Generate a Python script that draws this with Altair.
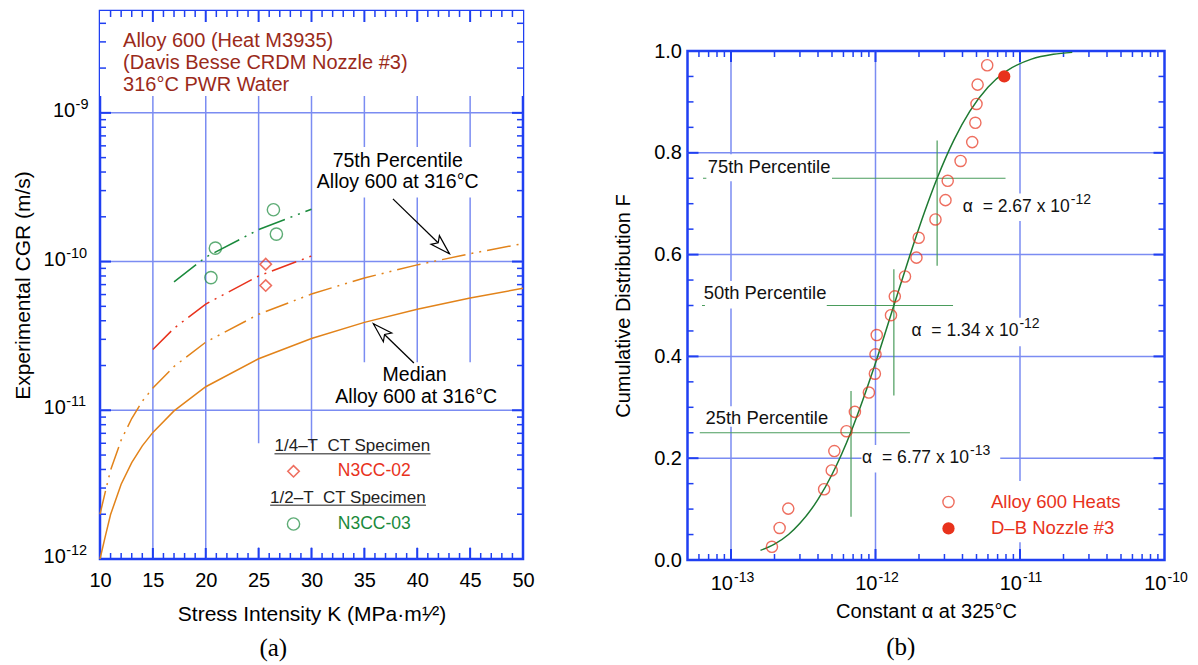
import altair as alt
import pandas as pd

BLUE = "#1f3ff2"
GRID = "#7b8cf2"
ORANGE = "#e2831a"
RED = "#e8321c"
DARKRED = "#9a2a1a"
GREEN = "#1a8a3c"
FIT_GREEN = "#1e7a32"
PCT_GREEN = "#4a9c5c"
FONT = "Liberation Sans"
NB = "\u00a0"

# ---------------- panel (a) data ----------------
k_curve = [10, 10.5, 11, 12, 13, 14, 15, 17, 20, 25, 30, 35, 40, 45, 50]
median_cgr = [1.0e-12, 1.42e-12, 1.99e-12, 3.18e-12, 4.44e-12, 5.76e-12, 7.1e-12, 9.9e-12,
              1.44e-11, 2.22e-11, 3.04e-11, 3.9e-11, 4.78e-11, 5.69e-11, 6.61e-11]
p75_cgr = [2.0e-12, 2.83e-12, 3.96e-12, 6.3e-12, 8.8e-12, 1.15e-11, 1.41e-11, 1.97e-11,
           2.87e-11, 4.42e-11, 6.05e-11, 7.76e-11, 9.5e-11, 1.13e-10, 1.32e-10]
red_k = [15, 17, 20, 25, 30]
red_cgr = [2.56e-11, 3.56e-11, 5.18e-11, 8.0e-11, 1.09e-10]
green_k = [17, 20, 25, 30]
green_cgr = [7.3e-11, 1.07e-10, 1.64e-10, 2.25e-10]
n3cc02_k = [25.67, 25.67]
n3cc02_cgr = [9.6e-11, 6.9e-11]
n3cc03_k = [20.91, 20.49, 26.40, 26.68]
n3cc03_cgr = [1.23e-10, 7.8e-11, 2.23e-10, 1.53e-10]

note_lines = ["Alloy 600 (Heat M3935)", "(Davis Besse CRDM Nozzle #3)", "316°C PWR Water"]
note_k = [12.18, 12.18, 12.18]
note_v = [3.04e-9, 2.17e-9, 1.54e-9]

p75_lines = ["75th Percentile", "Alloy 600 at 316°C"]
p75_k = [38.15, 38.15]
p75_v = [4.78e-10, 3.43e-10]
med_lines = ["Median", "Alloy 600 at 316°C"]
med_k = [39.75, 39.9]
med_v = [1.73e-11, 1.23e-11]

leg_head = ["1/4–T" + NB + NB + "CT Specimen", "1/2–T" + NB + NB + "CT Specimen"]
leg_head_k = [33.86, 33.44]
leg_head_v = [5.78e-12, 2.57e-12]
ul_k1 = [26.5, 26.09]
ul_k2 = [41.25, 40.83]
ul_v = [5.1e-12, 2.30e-12]
leg_entry = ["N3CC-02", "N3CC-03"]
leg_entry_k = [32.49, 32.49]
leg_entry_v = [3.89e-12, 1.72e-12]
leg_mark_k = 28.3

arrow_k1 = [37.7, 39.68]
arrow_v1 = [2.64e-10, 2.08e-11]
arrow_k2 = [43.04, 35.85]
arrow_v2 = [1.13e-10, 3.82e-11]
arrow_ang = [134, 314]

boxa_k1 = [10, 30.8, 31.5, 24.3]
boxa_k2 = [50, 46.2, 48.5, 42.0]
boxa_v1 = [1.3e-9, 2.7e-10, 1.2e-12, 1.2e-12]
boxa_v2 = [4.84e-9, 5.9e-10, 2.1e-11, 6.0e-12]

a_xlabels = [10, 15, 20, 25, 30, 35, 40, 45, 50]
a_xgrid = [15, 20, 25, 30, 35, 40, 45]
a_xminor = [k for k in range(11, 50) if k % 5 != 0]
a_ylabels_long = [1e-12, 1e-11, 1e-10]
a_yexp_long = ["-12", "-11", "-10"]
a_ylabels_short = [1e-9]
a_yexp_short = ["-9"]
a_ygrid = [1e-11, 1e-10, 1e-9]
a_yminor = [m * 10.0 ** e for e in (-12, -11, -10) for m in range(2, 10)] + [2e-9, 3e-9, 4e-9]

# ---------------- panel (b) data ----------------
heat_alpha = [1.92e-13, 2.17e-13, 2.49e-13, 4.41e-13, 4.98e-13, 5.19e-13, 6.3e-13, 7.2e-13,
              9.0e-13, 0.99e-12, 1.0e-12, 1.02e-12, 1.28e-12, 1.36e-12, 1.6e-12, 1.92e-12,
              1.99e-12, 2.6e-12, 3.05e-12, 3.16e-12, 3.88e-12, 4.67e-12, 4.91e-12, 5.0e-12,
              5.09e-12, 5.93e-12]
heat_F = [0.026, 0.063, 0.101, 0.139, 0.176, 0.214, 0.253, 0.291, 0.329, 0.366, 0.404, 0.442,
          0.481, 0.518, 0.557, 0.594, 0.633, 0.669, 0.707, 0.745, 0.784, 0.821, 0.859, 0.896,
          0.934, 0.972]
nozzle_alpha = [7.78e-12]
nozzle_F = [0.950]
fit_alpha = [1.6e-13, 2.0e-13, 2.5e-13, 3.0e-13, 4.0e-13, 5.0e-13, 6.77e-13, 8.0e-13, 1.0e-12,
             1.34e-12, 1.7e-12, 2.2e-12, 2.67e-12, 3.5e-12, 4.5e-12, 6.0e-12, 8.0e-12, 1.2e-11,
             1.7e-11, 2.3e-11]
fit_F = [0.019, 0.031, 0.050, 0.072, 0.119, 0.168, 0.252, 0.307, 0.387, 0.50, 0.592, 0.686,
         0.75, 0.826, 0.882, 0.929, 0.960, 0.984, 0.9935, 0.9973]

pct_h_a1 = [6.4e-14, 6.3e-14, 6.08e-14]
pct_h_a2 = [7.94e-12, 3.44e-12, 1.73e-12]
pct_h_F = [0.75, 0.5, 0.25]
pct_v_a = [2.67e-12, 1.34e-12, 6.77e-13]
pct_v_F1 = [0.578, 0.323, 0.085]
pct_v_F2 = [0.824, 0.571, 0.332]

pct_text = ["75th Percentile", "50th Percentile", "25th Percentile"]
pct_text_a = [6.9e-14, 6.47e-14, 6.66e-14]
pct_text_F = [0.773, 0.524, 0.278]
alpha_text = ["α" + NB + NB + "= 2.67 x 10", "α" + NB + NB + "= 1.34 x 10", "α" + NB + NB + "= 6.77 x 10"]
alpha_exp = ["-12", "-12", "-13"]
alpha_end_a = [2.21e-11, 9.75e-12, 4.44e-12]   # where the "10" of each label ends
alpha_text_F = [0.694, 0.45, 0.201]

legb_text = ["Alloy 600 Heats", "D–B Nozzle #3"]
legb_text_a = [6.3e-12, 6.3e-12]
legb_F = [0.114, 0.062]
legb_mark_a = 3.2e-12

boxb_a1 = [6.75e-14, 6.6e-14, 6.4e-14, 4.0e-12, 1.75e-12, 8.0e-13, 2.6e-12]
boxb_a2 = [5.0e-13, 4.6e-13, 4.7e-13, 3.7e-11, 1.65e-11, 7.3e-12, 5.5e-11]
boxb_F1 = [0.744, 0.494, 0.262, 0.666, 0.420, 0.172, 0.035]
boxb_F2 = [0.797, 0.548, 0.302, 0.720, 0.476, 0.226, 0.155]

b_xlabels = [1e-13, 1e-12, 1e-11, 1e-10]
b_xexp = ["-13", "-12", "-11", "-10"]
b_xgrid = [1e-13, 1e-12, 1e-11]
b_xminor = [m * 1e-14 for m in (6, 7, 8, 9)] + [m * 10.0 ** e for e in (-13, -12, -11) for m in range(2, 10)]
b_ylabels = [0, 0.2, 0.4, 0.6, 0.8, 1.0]
b_ygrid = [0.2, 0.4, 0.6, 0.8]
b_yminor = [0.05, 0.1, 0.15, 0.25, 0.3, 0.35, 0.45, 0.5, 0.55, 0.65, 0.7, 0.75, 0.85, 0.9, 0.95]

# ---------------- layout ----------------
WA, HA = 423, 548
WB, HB = 477, 509
ARROW = "M0,0 L0.55,1.8 L0,1.42 L-0.55,1.8 Z"

xa = alt.Scale(domain=[10, 50], nice=False)
ya = alt.Scale(type="log", domain=[1e-12, 4.84e-9], nice=False)
AXA_X = alt.Axis(title="Stress Intensity K (MPa·m¹⁄²)", values=a_xlabels, ticks=False, domain=False,
                 grid=False, labelFontSize=20, labelPadding=11, titleFontSize=21, titlePadding=13,
                 labelFlush=False, labelOverlap=False)
AXA_Y = alt.Axis(title="Experimental CGR (m/s)", labels=False, ticks=False, domain=False, grid=False,
                 labelPadding=0, titleFontSize=21, titlePadding=66.5)

xb = alt.Scale(type="log", domain=[5.0e-14, 1e-10], nice=False)
yb = alt.Scale(domain=[0, 1], nice=False)
AXB_X = alt.Axis(title="Constant α at 325°C", labels=False, ticks=False, domain=False, grid=False,
                 labelPadding=0, titleFontSize=20, titlePadding=41)
AXB_Y = alt.Axis(title="Cumulative Distribution F", values=b_ylabels, format=".1f", ticks=False,
                 domain=False, grid=False, labelFontSize=20, labelPadding=6, titleFontSize=20,
                 titlePadding=20, labelFlush=False, labelOverlap=False)


def X(field, sc, ax):
    return alt.X(f"{field}:Q", scale=sc, axis=ax)


def Y(field, sc, ax):
    return alt.Y(f"{field}:Q", scale=sc, axis=ax)


def tick_layers(xvals, yvals, xsc, ysc, xax, yax, W, H, length, width):
    layers = []
    dx = pd.DataFrame({"x": xvals})
    dy = pd.DataFrame({"y": yvals})
    rx = alt.Chart(dx).mark_rule(color=BLUE, strokeWidth=width)
    ry = alt.Chart(dy).mark_rule(color=BLUE, strokeWidth=width)
    layers.append(rx.encode(x=X("x", xsc, xax), y=alt.value(H), y2=alt.value(H - length)))
    layers.append(rx.encode(x=X("x", xsc, xax), y=alt.value(0), y2=alt.value(length)))
    layers.append(ry.encode(y=Y("y", ysc, yax), x=alt.value(0), x2=alt.value(length)))
    layers.append(ry.encode(y=Y("y", ysc, yax), x=alt.value(W), x2=alt.value(W - length)))
    return layers


# ---------------- panel (a) ----------------
A = []
A.append(alt.Chart(pd.DataFrame({"x": a_xgrid})).mark_rule(color=GRID, strokeWidth=1.5).encode(
    x=X("x", xa, AXA_X), y=alt.value(0), y2=alt.value(HA)))
A.append(alt.Chart(pd.DataFrame({"x": boxa_k1, "x2": boxa_k2, "y": boxa_v1, "y2": boxa_v2}))
         .mark_rect(color="white").encode(x=X("x", xa, AXA_X), x2="x2:Q", y=Y("y", ya, AXA_Y), y2="y2:Q"))
A.append(alt.Chart(pd.DataFrame({"y": a_ygrid})).mark_rule(color=GRID, strokeWidth=1.5).encode(
    y=Y("y", ya, AXA_Y), x=alt.value(0), x2=alt.value(WA)))
A += tick_layers(a_xminor, a_yminor, xa, ya, AXA_X, AXA_Y, WA, HA, 6, 1.5)
A += tick_layers(a_xgrid, a_ygrid, xa, ya, AXA_X, AXA_Y, WA, HA, 11, 2)

# y-axis tick labels written as 10 with a raised exponent
for vals, exps, xbase in ((a_ylabels_long, a_yexp_long, -56.4), (a_ylabels_short, a_yexp_short, -47.0)):
    d = pd.DataFrame({"y": vals, "e": exps})
    A.append(alt.Chart(d).mark_text(align="left", baseline="middle", font=FONT, fontSize=20, dy=-2, color="black")
             .encode(y=Y("y", ya, AXA_Y), x=alt.value(xbase), text=alt.value("10")))
    A.append(alt.Chart(d).mark_text(align="left", baseline="middle", font=FONT, fontSize=14.5, dy=-8, color="black")
             .encode(y=Y("y", ya, AXA_Y), x=alt.value(xbase + 22.6), text="e:N"))

dash = [24, 6, 2, 6, 2, 6]
A.append(alt.Chart(pd.DataFrame({"x": k_curve, "y": median_cgr})).mark_line(color=ORANGE, strokeWidth=1.5)
         .encode(x=X("x", xa, AXA_X), y=Y("y", ya, AXA_Y)))
A.append(alt.Chart(pd.DataFrame({"x": k_curve, "y": p75_cgr})).mark_line(color=ORANGE, strokeWidth=1.5, strokeDash=dash)
         .encode(x=X("x", xa, AXA_X), y=Y("y", ya, AXA_Y)))
A.append(alt.Chart(pd.DataFrame({"x": red_k, "y": red_cgr})).mark_line(color=RED, strokeWidth=1.5, strokeDash=[26, 6, 2, 6, 2, 6])
         .encode(x=X("x", xa, AXA_X), y=Y("y", ya, AXA_Y)))
A.append(alt.Chart(pd.DataFrame({"x": green_k, "y": green_cgr})).mark_line(color=GREEN, strokeWidth=1.5, strokeDash=[28, 6, 2, 6, 2, 6])
         .encode(x=X("x", xa, AXA_X), y=Y("y", ya, AXA_Y)))
A.append(alt.Chart(pd.DataFrame({"x": n3cc02_k + [leg_mark_k], "y": n3cc02_cgr + [leg_entry_v[0]]}))
         .mark_point(shape="diamond", filled=False, color=RED, size=130, strokeWidth=1.6)
         .encode(x=X("x", xa, AXA_X), y=Y("y", ya, AXA_Y)))
A.append(alt.Chart(pd.DataFrame({"x": n3cc03_k + [leg_mark_k], "y": n3cc03_cgr + [leg_entry_v[1]]}))
         .mark_point(shape="circle", filled=False, color=GREEN, size=150, strokeWidth=1.4)
         .encode(x=X("x", xa, AXA_X), y=Y("y", ya, AXA_Y)))
A.append(alt.Chart(pd.DataFrame({"x": note_k, "y": note_v, "t": note_lines}))
         .mark_text(align="left", baseline="middle", font=FONT, fontSize=20, color=DARKRED)
         .encode(x=X("x", xa, AXA_X), y=Y("y", ya, AXA_Y), text="t:N"))
A.append(alt.Chart(pd.DataFrame({"x": p75_k + med_k, "y": p75_v + med_v, "t": p75_lines + med_lines}))
         .mark_text(align="center", baseline="middle", font=FONT, fontSize=19.5, color="black")
         .encode(x=X("x", xa, AXA_X), y=Y("y", ya, AXA_Y), text="t:N"))
A.append(alt.Chart(pd.DataFrame({"x": leg_head_k, "y": leg_head_v, "t": leg_head}))
         .mark_text(align="center", baseline="middle", font=FONT, fontSize=17, color="#222222")
         .encode(x=X("x", xa, AXA_X), y=Y("y", ya, AXA_Y), text="t:N"))
A.append(alt.Chart(pd.DataFrame({"x": ul_k1, "x2": ul_k2, "y": ul_v}))
         .mark_rule(color="#666666", strokeWidth=1.6)
         .encode(x=X("x", xa, AXA_X), x2="x2:Q", y=Y("y", ya, AXA_Y)))
A.append(alt.Chart(pd.DataFrame({"x": leg_entry_k, "y": leg_entry_v, "t": leg_entry, "c": [RED, GREEN]}))
         .mark_text(align="left", baseline="middle", font=FONT, fontSize=17.5)
         .encode(x=X("x", xa, AXA_X), y=Y("y", ya, AXA_Y), text="t:N", color=alt.Color("c:N", scale=None)))
A.append(alt.Chart(pd.DataFrame({"x": arrow_k1, "x2": arrow_k2, "y": arrow_v1, "y2": arrow_v2}))
         .mark_rule(color="black", strokeWidth=1.3)
         .encode(x=X("x", xa, AXA_X), x2="x2:Q", y=Y("y", ya, AXA_Y), y2="y2:Q"))
A.append(alt.Chart(pd.DataFrame({"x": arrow_k2, "y": arrow_v2, "ang": arrow_ang}))
         .mark_point(shape=ARROW, filled=True, fill="white", stroke="black", strokeWidth=1.2, size=480, opacity=1)
         .encode(x=X("x", xa, AXA_X), y=Y("y", ya, AXA_Y), angle=alt.Angle("ang:Q", scale=None)))

panel_a = alt.layer(*A).properties(
    width=WA, height=HA,
    title=alt.TitleParams("(a)", orient="bottom", anchor="middle", frame="bounds",
                          font="Liberation Serif", fontSize=25, fontWeight="normal", offset=12, color="black"))

# ---------------- panel (b) ----------------
B = []
B.append(alt.Chart(pd.DataFrame({"x": b_xgrid})).mark_rule(color=GRID, strokeWidth=1.5).encode(
    x=X("x", xb, AXB_X), y=alt.value(0), y2=alt.value(HB)))
B.append(alt.Chart(pd.DataFrame({"y": b_ygrid})).mark_rule(color=GRID, strokeWidth=1.5).encode(
    y=Y("y", yb, AXB_Y), x=alt.value(0), x2=alt.value(WB)))
B.append(alt.Chart(pd.DataFrame({"x": pct_h_a1, "x2": pct_h_a2, "y": pct_h_F}))
         .mark_rule(color=PCT_GREEN, strokeWidth=1.2)
         .encode(x=X("x", xb, AXB_X), x2="x2:Q", y=Y("y", yb, AXB_Y)))
B.append(alt.Chart(pd.DataFrame({"x": pct_v_a, "y": pct_v_F1, "y2": pct_v_F2}))
         .mark_rule(color=PCT_GREEN, strokeWidth=1.2)
         .encode(x=X("x", xb, AXB_X), y=Y("y", yb, AXB_Y), y2="y2:Q"))
B.append(alt.Chart(pd.DataFrame({"x": boxb_a1, "x2": boxb_a2, "y": boxb_F1, "y2": boxb_F2}))
         .mark_rect(color="white").encode(x=X("x", xb, AXB_X), x2="x2:Q", y=Y("y", yb, AXB_Y), y2="y2:Q"))
B += tick_layers(b_xminor, b_yminor, xb, yb, AXB_X, AXB_Y, WB, HB, 6, 1.5)
B += tick_layers(b_xgrid, b_ygrid, xb, yb, AXB_X, AXB_Y, WB, HB, 11, 2)

# x-axis tick labels: 10 with a raised exponent
dlab = pd.DataFrame({"x": b_xlabels, "e": b_xexp})
B.append(alt.Chart(dlab).mark_text(align="right", baseline="middle", font=FONT, fontSize=20, dx=2, color="black")
         .encode(x=X("x", xb, AXB_X), y=alt.value(HB + 24), text=alt.value("10")))
B.append(alt.Chart(dlab).mark_text(align="left", baseline="middle", font=FONT, fontSize=14, dx=3, color="black")
         .encode(x=X("x", xb, AXB_X), y=alt.value(HB + 18), text="e:N"))

B.append(alt.Chart(pd.DataFrame({"x": fit_alpha, "y": fit_F}))
         .mark_line(color=FIT_GREEN, strokeWidth=1.5, interpolate="monotone")
         .encode(x=X("x", xb, AXB_X), y=Y("y", yb, AXB_Y)))
B.append(alt.Chart(pd.DataFrame({"x": heat_alpha + [legb_mark_a], "y": heat_F + [legb_F[0]]}))
         .mark_point(shape="circle", filled=False, color=RED, size=125, strokeWidth=1.4)
         .encode(x=X("x", xb, AXB_X), y=Y("y", yb, AXB_Y)))
B.append(alt.Chart(pd.DataFrame({"x": nozzle_alpha + [legb_mark_a], "y": nozzle_F + [legb_F[1]]}))
         .mark_point(shape="circle", filled=True, color=RED, size=150, opacity=1)
         .encode(x=X("x", xb, AXB_X), y=Y("y", yb, AXB_Y)))
B.append(alt.Chart(pd.DataFrame({"x": pct_text_a, "y": pct_text_F, "t": pct_text}))
         .mark_text(align="left", baseline="middle", font=FONT, fontSize=18.4, color="#111111")
         .encode(x=X("x", xb, AXB_X), y=Y("y", yb, AXB_Y), text="t:N"))
dal = pd.DataFrame({"x": alpha_end_a, "y": alpha_text_F, "t": alpha_text, "e": alpha_exp})
B.append(alt.Chart(dal).mark_text(align="right", baseline="middle", font=FONT, fontSize=17.5, color="#111111")
         .encode(x=X("x", xb, AXB_X), y=Y("y", yb, AXB_Y), text="t:N"))
B.append(alt.Chart(dal).mark_text(align="left", baseline="middle", font=FONT, fontSize=14, dx=1, dy=-7, color="#111111")
         .encode(x=X("x", xb, AXB_X), y=Y("y", yb, AXB_Y), text="e:N"))
B.append(alt.Chart(pd.DataFrame({"x": legb_text_a, "y": legb_F, "t": legb_text}))
         .mark_text(align="left", baseline="middle", font=FONT, fontSize=18.5, color=RED)
         .encode(x=X("x", xb, AXB_X), y=Y("y", yb, AXB_Y), text="t:N"))

panel_b = alt.layer(*B).properties(
    width=WB, height=HB,
    title=alt.TitleParams("(b)", orient="bottom", anchor="middle", frame="bounds",
                          font="Liberation Serif", fontSize=25, fontWeight="normal", offset=14, color="black"))

# empty strip above panel (b), so that its frame starts lower than panel (a)'s
spacer = (alt.Chart(pd.DataFrame({"s": [0]})).mark_point(opacity=0, size=4)
          .encode(x=alt.value(7), y=alt.value(7))
          .properties(width=WB, height=14, view=alt.ViewBackground(strokeOpacity=0)))

right = alt.vconcat(spacer, panel_b, spacing=14)

chart = (
    alt.hconcat(panel_a, right, spacing=75.5)
    .properties(padding={"left": 3, "top": 0, "right": 0, "bottom": 0})
    .configure_view(stroke=BLUE, strokeWidth=2.5)
    .configure_axis(labelFont=FONT, titleFont=FONT, titleFontWeight="normal",
                    labelColor="black", titleColor="black")
)

chart.save("out.html", embed_options={"renderer": "svg", "actions": False})
